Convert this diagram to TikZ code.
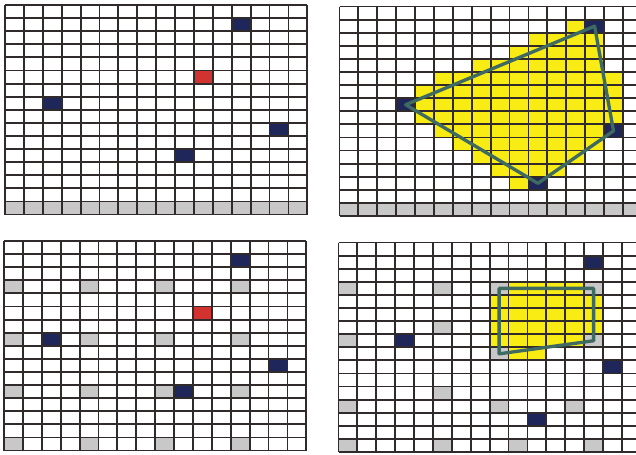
\documentclass[tikz,border=0pt]{standalone}
\usepackage{tikz}
\definecolor{gridink}{HTML}{302A2A}
\definecolor{pointblue}{HTML}{1F2659}
\definecolor{queryred}{HTML}{D33330}
\definecolor{samplegray}{HTML}{C8C8C8}
\definecolor{hullyellow}{HTML}{F8EC14}
\definecolor{hullink}{HTML}{3E6A62}
\tikzset{
  gridlines/.style={draw=gridink,line width=1.05pt},
  hull/.style={draw=hullink,line width=1.9pt,line join=round},
  panel/.style={x=0.378cm,y=-0.262cm}
}
\newcommand{\cellgrid}{%
  \foreach \i in {0,...,16}{
    \draw[gridlines] (\i,0) -- (\i,16);
    \draw[gridlines] (0,\i) -- (16,\i);
  }}

\begin{document}
\begin{tikzpicture}[x=0.02cm,y=-0.02cm]
  \useasboundingbox (0,0) rectangle (636,454);
  \clip (0,0) rectangle (636,454);
  \fill[white] (0,0) rectangle (636,454);

  % top left: points and query cell
  \begin{scope}[shift={(5,5)},panel]
    \foreach \c in {1,...,16} \fill[samplegray] (\c-1,15) rectangle ++(1,1);
    \foreach \c/\r in {13/2,3/8,15/10,10/12} \fill[pointblue] (\c-1,\r-1) rectangle ++(1,1);
    \fill[queryred] (10,5) rectangle ++(1,1);
    \cellgrid
  \end{scope}

  % top right: hull of the points
  \begin{scope}[shift={(339.5,6.5)},panel]
    \foreach \c in {1,...,16} \fill[samplegray] (\c-1,15) rectangle ++(1,1);
    \foreach \r/\a/\b in {2/13/13,3/11/14,4/10/14,5/8/14,6/6/15,7/5/15,8/5/15,
                          9/5/15,10/6/14,11/7/14,12/8/13,13/9/12,14/10/10}
      \fill[hullyellow] (\a-1,\r-1) rectangle (\b,\r);
    \foreach \c/\r in {14/2,4/8,15/10,11/14} \fill[pointblue] (\c-1,\r-1) rectangle ++(1,1);
    \cellgrid
    \coordinate (ptop) at (13.5,1.5);
    \coordinate (pleft) at (3.5,7.5);
    \coordinate (pbottom) at (10.5,13.5);
    \coordinate (pright) at (14.5,9.5);
    \draw[hull] (ptop) -- (pleft) -- (pbottom) -- (pright) -- cycle;
  \end{scope}

  % bottom left: regular samples
  \begin{scope}[shift={(4,241)},panel]
    \foreach \c in {1,5,9,13}
      \foreach \r in {4,8,12,16}
        \fill[samplegray] (\c-1,\r-1) rectangle ++(1,1);
    \foreach \c/\r in {13/2,3/8,15/10,10/12} \fill[pointblue] (\c-1,\r-1) rectangle ++(1,1);
    \fill[queryred] (10,5) rectangle ++(1,1);
    \cellgrid
  \end{scope}

  % bottom right: hull of the samples
  \begin{scope}[shift={(338.5,242.5)},panel]
    \foreach \c/\r in {1/4,6/4,9/4,14/4,6/7,1/8,14/8,9/9,6/12,1/13,9/13,13/13,1/16,6/16,10/16,14/16}
      \fill[samplegray] (\c-1,\r-1) rectangle ++(1,1);
    \foreach \r/\a/\b in {4/10/13,5/9/14,6/9/14,7/9/14,8/9/13,9/10/11}
      \fill[hullyellow] (\a-1,\r-1) rectangle (\b,\r);
    \foreach \c/\r in {14/2,4/8,15/10,11/14} \fill[pointblue] (\c-1,\r-1) rectangle ++(1,1);
    \cellgrid
    \coordinate (stl) at (8.5,3.5);
    \coordinate (str) at (13.5,3.5);
    \coordinate (sbr) at (13.5,7.5);
    \coordinate (sbl) at (8.5,8.5);
    \draw[hull] (stl) -- (str) -- (sbr) -- (sbl) -- cycle;
  \end{scope}
\end{tikzpicture}
\end{document}
